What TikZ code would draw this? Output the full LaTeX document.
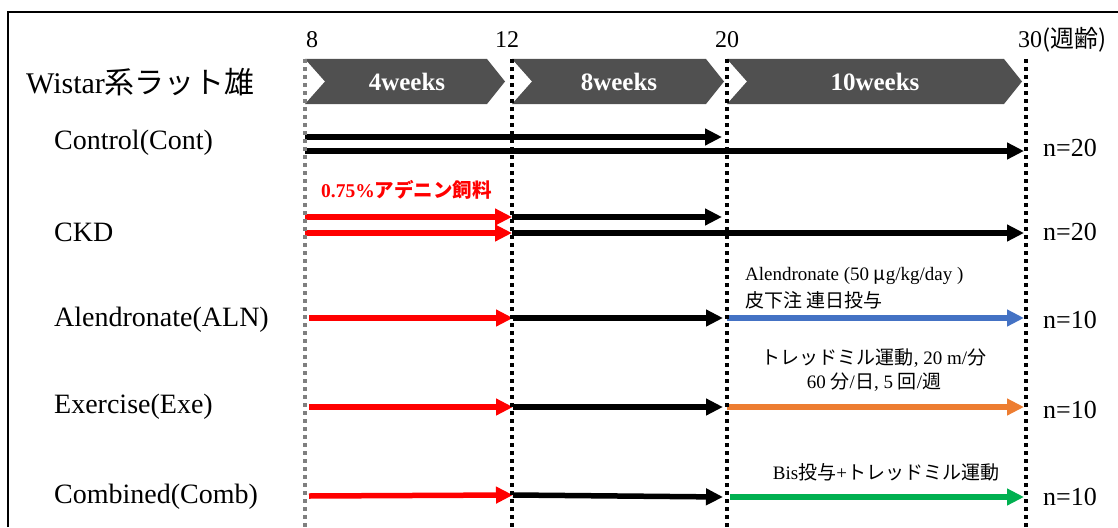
\documentclass[tikz,border=0pt]{standalone}
\usepackage{fontspec}
\setmainfont{Liberation Serif}
\newfontfamily\cjk{Noto Sans CJK JP}
\usetikzlibrary{arrows.meta}
\definecolor{band}{HTML}{505050}
\definecolor{ared}{HTML}{FF0000}
\definecolor{ablue}{HTML}{4472C4}
\definecolor{aorange}{HTML}{ED7D31}
\definecolor{agreen}{HTML}{00B050}
\definecolor{vgray}{HTML}{7F7F7F}
\begin{document}
\begin{tikzpicture}[x=1pt,y=-1pt,
 lbl/.style={anchor=west, inner sep=0pt, font=\fontsize{28}{30}\selectfont},
 hlbl/.style={anchor=west, inner sep=0pt, font=\fontsize{30}{32}\selectfont},
 nlbl/.style={anchor=west, inner sep=0pt, font=\fontsize{26}{28}\selectfont},
 tick/.style={inner sep=0pt, font=\fontsize{24}{26}\selectfont},
 wk/.style={inner sep=0pt, text=white, font=\fontsize{25}{27}\selectfont\bfseries},
 arr/.style={line width=5.5pt, -{Triangle[length=17pt,width=16pt]}},
 vdot/.style={line width=3.5pt, dash pattern=on 4pt off 4pt},
 note/.style={inner sep=0pt, font=\fontsize{19}{22}\selectfont},
 chev/.style={fill=band},
]
\useasboundingbox (0,0) rectangle (1118,527);

% frame
\coordinate (fbl) at (8,527);
\coordinate (ftl) at (8,12);
\coordinate (ftr) at (1118,12);
\draw[line width=2pt] (fbl) -- (ftl) -- (ftr);

% chevron band
\fill[chev] (305,59) -- (487,59) -- (505,81.5) -- (487,104) -- (305,104) -- (325,81.5) -- cycle;
\fill[chev] (512,59) -- (706,59) -- (724,81.5) -- (706,104) -- (512,104) -- (532,81.5) -- cycle;
\fill[chev] (727,59) -- (1004,59) -- (1022,81.5) -- (1004,104) -- (727,104) -- (747,81.5) -- cycle;
\node[wk] (w1) at (407,81.5) {4weeks};
\node[wk] (w2) at (619,81.5) {8weeks};
\node[wk] (w3) at (875,81.5) {10weeks};

% tick labels
\node[tick] (t8) at (312,40) {8};
\node[tick] (t12) at (507,40) {12};
\node[tick] (t20) at (727,40) {20};
\node[tick,anchor=west] (t30) at (1018,40) {30{\cjk(週齢)}};

% header
\node[hlbl] (hdr) at (26,82) {Wistar{\cjk 系ラット雄}};

% row labels
\node[lbl] (l1) at (54,143) {Control(Cont)};
\node[lbl] (l2) at (54,232) {CKD};
\node[lbl] (l3) at (54,320) {Alendronate(ALN)};
\node[lbl] (l4) at (54,407) {Exercise(Exe)};
\node[lbl] (l5) at (54,497) {Combined(Comb)};

% n labels
\node[nlbl] (n1) at (1043,148) {n=20};
\node[nlbl] (n2) at (1043,232) {n=20};
\node[nlbl] (n3) at (1043,320) {n=10};
\node[nlbl] (n4) at (1043,410) {n=10};
\node[nlbl] (n5) at (1043,497) {n=10};

% Control
\coordinate (c1a) at (305,137);
\coordinate (c1b) at (722,137);
\coordinate (c2a) at (305,151);
\coordinate (c2b) at (1024,151);
\draw[arr] (c1a) -- (c1b);
\draw[arr] (c2a) -- (c2b);

% CKD
\node[inner sep=0pt, text=ared, anchor=west, font=\fontsize{19.5}{22}\selectfont\bfseries] (feed) at (321,190) {0.75\%{\cjk アデニン飼料}};
\coordinate (k1a) at (305,217);
\coordinate (k1b) at (512,217);
\coordinate (k1c) at (722,217);
\coordinate (k2a) at (305,233);
\coordinate (k2b) at (512,233);
\coordinate (k2c) at (1024,233);
\draw[arr,ared] (k1a) -- (k1b);
\draw[arr,ared] (k2a) -- (k2b);
\draw[arr] (k1b) -- (k1c);
\draw[arr] (k2b) -- (k2c);

% ALN
\coordinate (a1) at (309,318);
\coordinate (a2) at (513,318);
\coordinate (a3) at (723,318);
\coordinate (a4) at (727,318);
\coordinate (a5) at (1024,318);
\draw[arr,ared] (a1) -- (a2);
\draw[arr] (a2) -- (a3);
\draw[arr,ablue] (a4) -- (a5);
\node[note,anchor=west] (aln1) at (745,276) {Alendronate (50 {\cjk μ}g/kg/day )};
\node[note,anchor=west] (aln2) at (745,300) {\cjk 皮下注 連日投与};

% Exe
\coordinate (e1) at (309,407);
\coordinate (e2) at (513,407);
\coordinate (e3) at (723,407);
\coordinate (e4) at (727,407);
\coordinate (e5) at (1024,407);
\draw[arr,ared] (e1) -- (e2);
\draw[arr] (e2) -- (e3);
\draw[arr,aorange] (e4) -- (e5);
\node[note] (ex1) at (874,358) {{\cjk トレッドミル運動}, 20 m/{\cjk 分}};
\node[note] (ex2) at (874,382) {60 {\cjk 分}/{\cjk 日}, 5 {\cjk 回}/{\cjk 週}};

% Comb
\coordinate (m1) at (309,496);
\coordinate (m2) at (513,495);
\coordinate (m3) at (723,497);
\coordinate (m4) at (730,497);
\coordinate (m5) at (1024,497);
\draw[arr,ared] (m1) -- (m2);
\draw[arr] (m2) -- (m3);
\draw[arr,agreen] (m4) -- (m5);
\node[note] (cb1) at (886,472) {Bis{\cjk 投与}+{\cjk トレッドミル運動}};

% dotted verticals
\coordinate (v1t) at (305,59);
\coordinate (v1b) at (305,527);
\coordinate (v2t) at (512,59);
\coordinate (v2b) at (512,527);
\coordinate (v3t) at (727,59);
\coordinate (v3b) at (727,527);
\coordinate (v4t) at (1026,59);
\coordinate (v4b) at (1026,527);
\draw[vdot,vgray] (v1t) -- (v1b);
\draw[vdot] (v2t) -- (v2b);
\draw[vdot] (v3t) -- (v3b);
\draw[vdot] (v4t) -- (v4b);
\end{tikzpicture}
\end{document}
